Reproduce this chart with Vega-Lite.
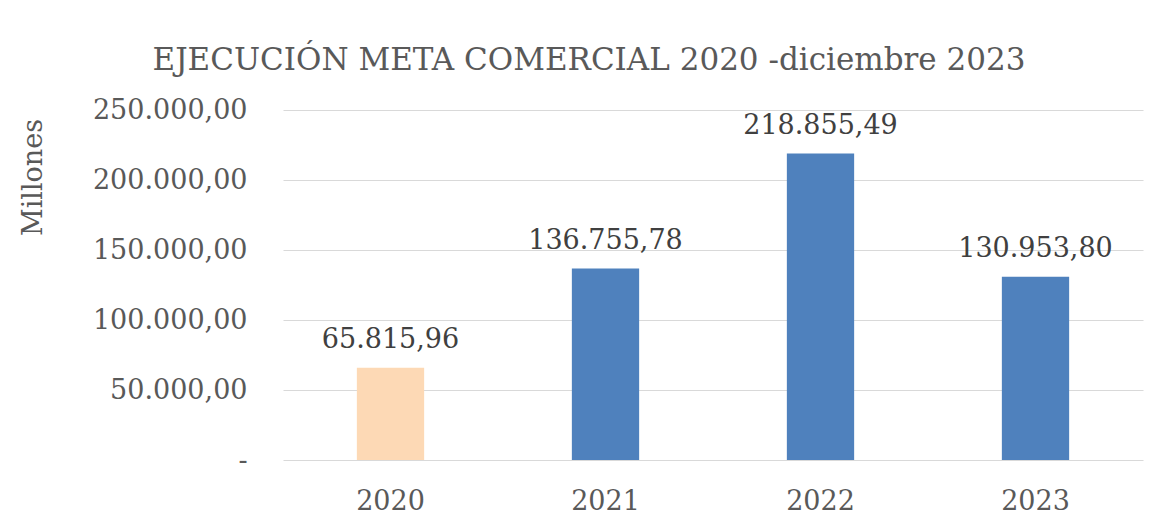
{
  "$schema": "https://vega.github.io/schema/vega-lite/v6.json",
  "width": 860,
  "height": 350,
  "autosize": {"type": "none"},
  "padding": {"left": 283, "top": 110, "right": 22, "bottom": 69},
  "background": "white",
  "config": {
    "locale": {"number": {"decimal": ",", "thousands": ".", "grouping": [3], "currency": ["", ""]}},
    "view": {"stroke": null},
    "font": "DejaVu Serif"
  },
  "title": {
    "text": "EJECUCIÓN META COMERCIAL 2020 -diciembre 2023",
    "font": "DejaVu Serif",
    "fontSize": 31,
    "fontWeight": "normal",
    "color": "#595959",
    "anchor": "middle",
    "frame": "bounds",
    "baseline": "alphabetic",
    "offset": -5,
    "dx": 8
  },
  "data": {
    "values": [
      {"anio": "2020", "valor": 65815.96, "tipo": "a"},
      {"anio": "2021", "valor": 136755.78, "tipo": "b"},
      {"anio": "2022", "valor": 218855.49, "tipo": "b"},
      {"anio": "2023", "valor": 130953.80, "tipo": "b"}
    ]
  },
  "encoding": {
    "x": {
      "field": "anio",
      "type": "nominal",
      "sort": null,
      "scale": {"paddingInner": 0.687, "paddingOuter": 0.3435},
      "axis": {
        "title": null,
        "labelAngle": 0,
        "labelFont": "DejaVu Serif",
        "labelFontSize": 27,
        "labelColor": "#595959",
        "labelPadding": 28,
        "ticks": false,
        "domain": false,
        "grid": false
      }
    },
    "y": {
      "field": "valor",
      "type": "quantitative",
      "scale": {"domain": [0, 250000], "nice": false},
      "axis": {
        "title": "Millones",
        "titleFont": "DejaVu Serif",
        "titleFontSize": 27,
        "titleFontWeight": "normal",
        "titleColor": "#595959",
        "titleAngle": -90,
        "titleAlign": "center",
        "titleBaseline": "middle",
        "titleX": -250,
        "titleY": 67,
        "values": [0, 50000, 100000, 150000, 200000, 250000],
        "format": ",.2f",
        "labelExpr": "datum.value == 0 ? '-' : datum.label",
        "labelFont": "DejaVu Serif",
        "labelFontSize": 27,
        "labelColor": "#595959",
        "labelPadding": 36,
        "ticks": false,
        "domain": false,
        "grid": true,
        "gridColor": "#D9D9D9",
        "gridWidth": 1
      }
    }
  },
  "layer": [
    {
      "mark": {"type": "bar"},
      "encoding": {
        "color": {
          "field": "tipo",
          "type": "nominal",
          "scale": {"domain": ["a", "b"], "range": ["#FDD9B5", "#4F81BD"]},
          "legend": null
        }
      }
    },
    {
      "mark": {"type": "text", "baseline": "alphabetic", "align": "center", "dy": -20, "font": "DejaVu Serif", "fontSize": 27, "color": "#404040"},
      "encoding": {
        "text": {"field": "valor", "type": "quantitative", "format": ",.2f"}
      }
    }
  ]
}
